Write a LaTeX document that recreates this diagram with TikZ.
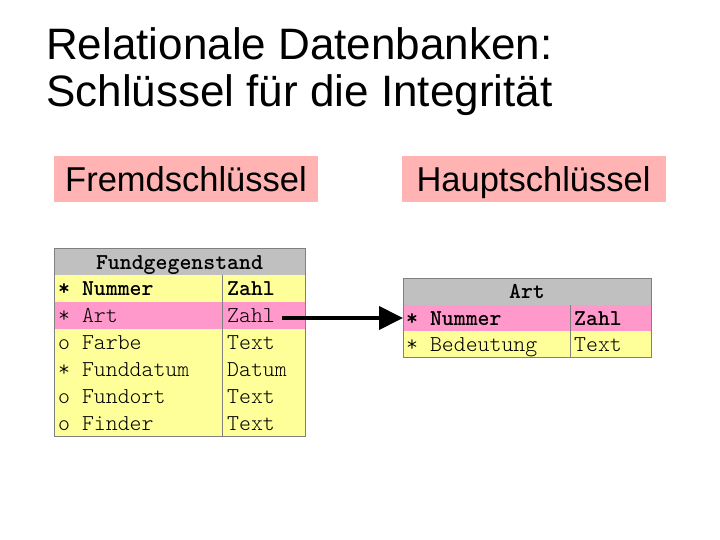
\documentclass[tikz,border=0pt]{standalone}
\usepackage{fontspec}
\setmainfont{Liberation Sans}
\setmonofont{Latin Modern Mono Light}
\usetikzlibrary{arrows.meta}
\definecolor{keypink}{HTML}{FFB3B3}
\definecolor{rowyellow}{HTML}{FFFF99}
\definecolor{rowpink}{HTML}{FF99CC}
\definecolor{headgray}{HTML}{C0C0C0}
\definecolor{gridgray}{HTML}{808080}
\begin{document}
\begin{tikzpicture}[x=1pt,y=-1pt,
  titletext/.style={anchor=base west, inner sep=0, font=\fontsize{44}{47}\selectfont},
  keybox/.style={fill=keypink, minimum width=264pt, minimum height=46pt, inner sep=0, text height=25pt, text depth=0pt, font=\fontsize{34.5}{36}\selectfont},
  rowbox/.style={fill=#1, anchor=north west, inner sep=0, outer sep=0},
  mono/.style={anchor=base west, inner sep=0, font=\ttfamily\fontsize{22.7}{24}\selectfont},
  monohead/.style={anchor=base, inner sep=0, font=\ttfamily\bfseries\fontsize{22.7}{24}\selectfont},
  grid/.style={draw=gridgray, line width=1pt},
  fkarrow/.style={line width=4pt, -{Triangle[length=24pt,width=23pt]}}
]
\useasboundingbox (0,0) rectangle (720,540);

% title
\node[titletext] (title1) at (46,60) {Relationale Datenbanken:};
\node[titletext] (title2) at (46,107) {Schlüssel für die Integrität};

% key labels
\node[keybox] (fk) at (186,179) {Fremdschlüssel};
\node[keybox] (pk) at (533.5,179) {Hauptschlüssel};

% table 1: Fundgegenstand
\node[rowbox=headgray, minimum width=251pt, minimum height=27pt] (t1h) at (54,248) {};
\node[rowbox=rowyellow, minimum width=251pt, minimum height=27pt] (t1r1) at (54,275) {};
\node[rowbox=rowpink, minimum width=251pt, minimum height=27pt] (t1r2) at (54,302) {};
\node[rowbox=rowyellow, minimum width=251pt, minimum height=107pt] (t1rest) at (54,329) {};
\draw[grid] (54,248) rectangle (305,436);
\draw[grid] (222,275) -- (222,436);

\node[monohead] (t1title) at (179.5,269) {Fundgegenstand};
\node[mono] (t1a1) at (58,295) {\bfseries * Nummer};
\node[mono] (t1b1) at (227,295) {\bfseries Zahl};
\node[mono] (t1a2) at (58,322) {* Art};
\node[mono] (t1b2) at (227,322) {Zahl};
\node[mono] (t1a3) at (58,349) {o Farbe};
\node[mono] (t1b3) at (227,349) {Text};
\node[mono] (t1a4) at (58,376) {* Funddatum};
\node[mono] (t1b4) at (227,376) {Datum};
\node[mono] (t1a5) at (58,403) {o Fundort};
\node[mono] (t1b5) at (227,403) {Text};
\node[mono] (t1a6) at (58,430) {o Finder};
\node[mono] (t1b6) at (227,430) {Text};

% table 2: Art
\node[rowbox=headgray, minimum width=248pt, minimum height=27pt] (t2h) at (403,278) {};
\node[rowbox=rowpink, minimum width=248pt, minimum height=26pt] (t2r1) at (403,305) {};
\node[rowbox=rowyellow, minimum width=248pt, minimum height=26pt] (t2r2) at (403,331) {};
\draw[grid] (403,278) rectangle (651,357);
\draw[grid] (570,305) -- (570,357);

\node[monohead] (t2title) at (527,298) {Art};
\node[mono] (t2a1) at (406,325) {\bfseries * Nummer};
\node[mono] (t2b1) at (574,325) {\bfseries Zahl};
\node[mono] (t2a2) at (406,351) {* Bedeutung};
\node[mono] (t2b2) at (574,351) {Text};

% foreign key arrow
\coordinate (fkstart) at (282,318);
\draw[fkarrow] (fkstart) -- (t2r1.west);
\end{tikzpicture}
\end{document}
